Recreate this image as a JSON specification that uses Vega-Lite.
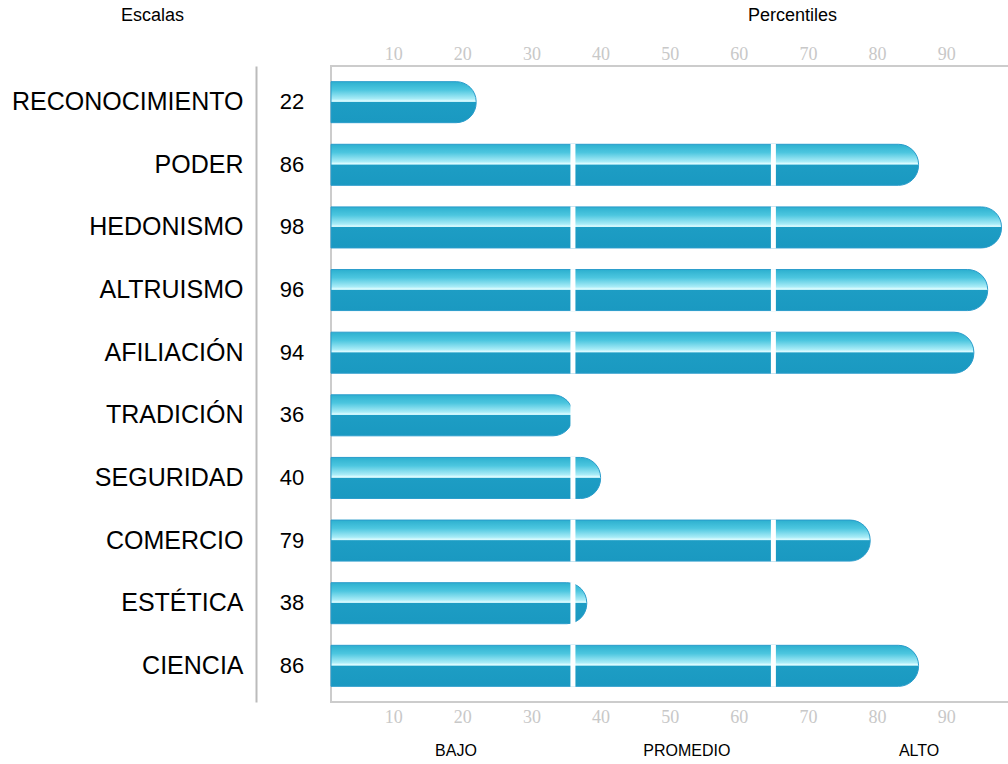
{
  "$schema": "https://vega.github.io/schema/vega-lite/v6.json",
  "autosize": "none",
  "width": 679,
  "height": 636,
  "padding": {"left": 331, "top": 66, "right": 0, "bottom": 62},
  "background": "white",
  "config": {
    "view": {"stroke": "#cccccc", "strokeWidth": 2},
    "font": "Liberation Sans"
  },
  "datasets": {
    "escalas": [
      {"escala": "RECONOCIMIENTO", "valor": 22},
      {"escala": "PODER", "valor": 86},
      {"escala": "HEDONISMO", "valor": 98},
      {"escala": "ALTRUISMO", "valor": 96},
      {"escala": "AFILIACIÓN", "valor": 94},
      {"escala": "TRADICIÓN", "valor": 36},
      {"escala": "SEGURIDAD", "valor": 40},
      {"escala": "COMERCIO", "valor": 79},
      {"escala": "ESTÉTICA", "valor": 38},
      {"escala": "CIENCIA", "valor": 86}
    ],
    "cortes": [
      {"escala": "PODER", "corte": 36}, {"escala": "PODER", "corte": 65},
      {"escala": "HEDONISMO", "corte": 36}, {"escala": "HEDONISMO", "corte": 65},
      {"escala": "ALTRUISMO", "corte": 36}, {"escala": "ALTRUISMO", "corte": 65},
      {"escala": "AFILIACIÓN", "corte": 36}, {"escala": "AFILIACIÓN", "corte": 65},
      {"escala": "TRADICIÓN", "corte": 36},
      {"escala": "SEGURIDAD", "corte": 36},
      {"escala": "COMERCIO", "corte": 36}, {"escala": "COMERCIO", "corte": 65},
      {"escala": "ESTÉTICA", "corte": 36},
      {"escala": "CIENCIA", "corte": 36}, {"escala": "CIENCIA", "corte": 65}
    ]
  },
  "layer": [
    {
      "data": {"name": "escalas"},
      "mark": {
        "type": "bar",
        "cornerRadiusTopRight": 20,
        "cornerRadiusBottomRight": 20,
        "stroke": "#2a9ccb",
        "strokeWidth": 1,
        "color": {
          "gradient": "linear",
          "x1": 0, "y1": 0, "x2": 0, "y2": 1,
          "stops": [
            {"offset": 0, "color": "#2cb0cf"},
            {"offset": 0.2, "color": "#4cc6df"},
            {"offset": 0.42, "color": "#a9ecf7"},
            {"offset": 0.47, "color": "#dcfcff"},
            {"offset": 0.49, "color": "#bdeef8"},
            {"offset": 0.5, "color": "#1d9dc4"},
            {"offset": 1, "color": "#1a99c1"}
          ]
        }
      },
      "encoding": {
        "y": {
          "field": "escala", "type": "nominal", "sort": null,
          "scale": {"paddingInner": 0.345, "paddingOuter": 0.25},
          "axis": {
            "orient": "left", "offset": 75, "ticks": false, "grid": false,
            "domainColor": "#bbbbbb", "domainWidth": 2,
            "labelFont": "Liberation Sans", "labelFontSize": 25, "labelColor": "#000000",
            "labelPadding": 13, "labelLimit": 400,
            "title": "Escalas", "titleAngle": 0, "titleFont": "Liberation Sans",
            "titleFontSize": 18, "titleFontWeight": "normal", "titleColor": "#000000",
            "titleAlign": "center", "titleBaseline": "middle",
            "titleX": -104, "titleY": -51
          }
        },
        "x": {
          "field": "valor", "type": "quantitative",
          "scale": {"domain": [1, 99.23], "zero": false, "nice": false},
          "axis": {
            "orient": "top", "values": [10, 20, 30, 40, 50, 60, 70, 80, 90],
            "ticks": false, "domain": false, "grid": false,
            "labelFont": "Liberation Serif", "labelFontSize": 18, "labelColor": "#c8c8c8",
            "labelPadding": 3,
            "title": "Percentiles", "titleFont": "Liberation Sans", "titleFontSize": 18,
            "titleFontWeight": "normal", "titleColor": "#000000",
            "titleAlign": "center", "titleBaseline": "middle",
            "titleX": 461, "titleY": -51
          }
        },
        "x2": {"datum": 1}
      }
    },
    {
      "data": {"name": "cortes"},
      "mark": {"type": "tick", "color": "#ffffff", "thickness": 5, "size": 42, "opacity": 1},
      "encoding": {
        "y": {"field": "escala", "type": "nominal", "sort": null},
        "x": {
          "field": "corte", "type": "quantitative",
          "axis": {
            "orient": "bottom", "values": [10, 20, 30, 40, 50, 60, 70, 80, 90],
            "ticks": false, "domain": false, "grid": false,
            "labelFont": "Liberation Serif", "labelFontSize": 18, "labelColor": "#c8c8c8",
            "labelPadding": 6, "title": null
          }
        }
      }
    },
    {
      "data": {"name": "escalas"},
      "mark": {"type": "text", "dx": -39, "fontSize": 22, "font": "Liberation Sans", "color": "#000000", "align": "center", "baseline": "middle"},
      "encoding": {
        "y": {"field": "escala", "type": "nominal", "sort": null},
        "x": {
          "datum": 1,
          "axis": {
            "orient": "bottom", "values": [19, 52.4, 86],
            "labelExpr": "datum.value < 30 ? 'BAJO' : (datum.value < 70 ? 'PROMEDIO' : 'ALTO')",
            "ticks": false, "domain": false, "grid": false,
            "labelFont": "Liberation Sans", "labelFontSize": 16, "labelColor": "#000000",
            "labelPadding": 40, "title": null
          }
        },
        "text": {"field": "valor", "type": "quantitative"}
      }
    }
  ],
  "resolve": {"axis": {"x": "independent"}}
}
